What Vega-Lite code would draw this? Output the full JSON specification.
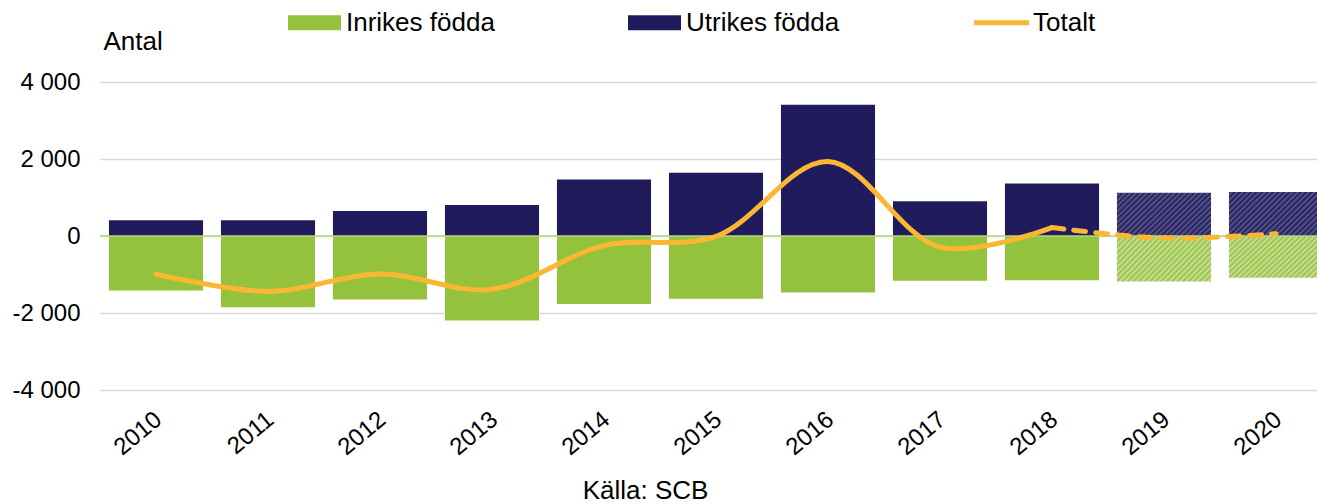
{
  "$schema": "https://vega.github.io/schema/vega-lite/v6.json",
  "width": 1217,
  "height": 308,
  "autosize": {"type": "none"},
  "padding": {"left": 100, "top": 82, "right": 0, "bottom": 114},
  "background": "white",
  "config": {
    "view": {"stroke": null},
    "font": "Liberation Sans",
    "axis": {"labelFont": "Liberation Sans", "titleFont": "Liberation Sans", "labelColor": "#000000", "titleColor": "#000000"},
    "legend": {"labelFont": "Liberation Sans"}
  },
  "title": {
    "text": "Källa: SCB",
    "orient": "bottom",
    "anchor": "middle",
    "frame": "group",
    "font": "Liberation Sans",
    "fontSize": 26,
    "fontWeight": "normal",
    "color": "#000000",
    "dx": -63,
    "offset": 18
  },
  "datasets": {
    "bars": [
      {"year": 2010, "serie": "Utrikes födda", "value": 409},
      {"year": 2010, "serie": "Inrikes födda", "value": -1416},
      {"year": 2011, "serie": "Utrikes födda", "value": 409},
      {"year": 2011, "serie": "Inrikes födda", "value": -1851},
      {"year": 2012, "serie": "Utrikes födda", "value": 652},
      {"year": 2012, "serie": "Inrikes födda", "value": -1650},
      {"year": 2013, "serie": "Utrikes födda", "value": 808},
      {"year": 2013, "serie": "Inrikes födda", "value": -2198},
      {"year": 2014, "serie": "Utrikes födda", "value": 1470},
      {"year": 2014, "serie": "Inrikes födda", "value": -1763},
      {"year": 2015, "serie": "Utrikes födda", "value": 1643},
      {"year": 2015, "serie": "Inrikes födda", "value": -1633},
      {"year": 2016, "serie": "Utrikes födda", "value": 3408},
      {"year": 2016, "serie": "Inrikes födda", "value": -1468},
      {"year": 2017, "serie": "Utrikes födda", "value": 904},
      {"year": 2017, "serie": "Inrikes födda", "value": -1165},
      {"year": 2018, "serie": "Utrikes födda", "value": 1366},
      {"year": 2018, "serie": "Inrikes födda", "value": -1147},
      {"year": 2019, "serie": "Utrikes födda", "value": 1121},
      {"year": 2019, "serie": "Inrikes födda", "value": -1181},
      {"year": 2020, "serie": "Utrikes födda", "value": 1140},
      {"year": 2020, "serie": "Inrikes födda", "value": -1085}
    ],
    "total": [
      {"year": 2010, "value": -990},
      {"year": 2011, "value": -1440},
      {"year": 2012, "value": -985},
      {"year": 2013, "value": -1385},
      {"year": 2014, "value": -250},
      {"year": 2015, "value": -10},
      {"year": 2016, "value": 1935},
      {"year": 2017, "value": -290},
      {"year": 2018, "value": 219},
      {"year": 2019, "value": -55},
      {"year": 2020, "value": 60}
    ],
    "zero": [{"value": 0}]
  },
  "layer": [
    {
      "data": {"name": "bars"},
      "transform": [{"filter": "datum.year <= 2018"}],
      "mark": {"type": "bar"},
      "encoding": {
        "x": {
          "field": "year", "type": "ordinal",
          "scale": {"range": [0, 1232], "paddingInner": 0.16, "paddingOuter": 0.08},
          "axis": {"title": null, "labelAngle": -40, "labelFontSize": 24, "domain": false, "ticks": false, "grid": false, "labelPadding": 17, "labelOffset": -5}
        },
        "y": {
          "field": "value", "type": "quantitative", "stack": null,
          "scale": {"domain": [-4000, 4000], "nice": false},
          "axis": {
            "values": [-4000, -2000, 0, 2000, 4000],
            "labelExpr": "(datum.value < 0 ? '-' : '') + replace(format(abs(datum.value), ','), ',', ' ')",
            "labelFontSize": 24, "labelPadding": 20,
            "domain": false, "ticks": false,
            "grid": true, "gridColor": "#D9D9D9", "gridWidth": 1.5,
            "title": "Antal", "titleAngle": 0, "titleAlign": "left", "titleBaseline": "alphabetic",
            "titleX": 3, "titleY": -33, "titleFontSize": 26, "titleFontWeight": "normal"
          }
        },
        "color": {
          "field": "serie", "type": "nominal",
          "scale": {"domain": ["Inrikes födda", "Utrikes födda", "Totalt"], "range": ["#95C23D", "#201B5C", "#FBB734"]},
          "legend": {
            "title": null,
            "orient": "none",
            "direction": "horizontal",
            "legendX": 188,
            "legendY": -86,
            "padding": 0,
            "labelFontSize": 26,
            "labelColor": "#000000",
            "labelOffset": 5,
            "columnPadding": 133,
            "symbolSize": 2809,
            "symbolStrokeWidth": 0,
            "encode": {
              "symbols": {
                "update": {
                  "shape": {"signal": "datum.value === 'Totalt' ? 'M-1.04,-0.09H1.04V0.09H-1.04Z' : 'M-1,-0.28H1V0.28H-1Z'"},
                  "fill": {"scale": "color", "field": "value"},
                  "opacity": {"value": 1},
                  "strokeWidth": {"value": 0}
                }
              }
            }
          }
        }
      }
    },
    {
      "data": {"name": "bars"},
      "transform": [{"filter": "datum.year >= 2019 && datum.serie === 'Utrikes födda'"}],
      "mark": {
        "type": "bar",
        "fill": {
          "gradient": "linear", "x1": 0, "y1": 0, "x2": 1.2, "y2": 0.565,
          "stops": [
            {"offset": 0, "color": "#201B5C"}, {"offset": 0.02, "color": "#5A5A8C"},
            {"offset": 0.04, "color": "#201B5C"}, {"offset": 0.06, "color": "#5A5A8C"},
            {"offset": 0.08, "color": "#201B5C"}, {"offset": 0.10, "color": "#5A5A8C"},
            {"offset": 0.12, "color": "#201B5C"}, {"offset": 0.14, "color": "#5A5A8C"},
            {"offset": 0.16, "color": "#201B5C"}, {"offset": 0.18, "color": "#5A5A8C"},
            {"offset": 0.20, "color": "#201B5C"}, {"offset": 0.22, "color": "#5A5A8C"},
            {"offset": 0.24, "color": "#201B5C"}, {"offset": 0.26, "color": "#5A5A8C"},
            {"offset": 0.28, "color": "#201B5C"}, {"offset": 0.30, "color": "#5A5A8C"},
            {"offset": 0.32, "color": "#201B5C"}, {"offset": 0.34, "color": "#5A5A8C"},
            {"offset": 0.36, "color": "#201B5C"}, {"offset": 0.38, "color": "#5A5A8C"},
            {"offset": 0.40, "color": "#201B5C"}, {"offset": 0.42, "color": "#5A5A8C"},
            {"offset": 0.44, "color": "#201B5C"}, {"offset": 0.46, "color": "#5A5A8C"},
            {"offset": 0.48, "color": "#201B5C"}, {"offset": 0.50, "color": "#5A5A8C"},
            {"offset": 0.52, "color": "#201B5C"}, {"offset": 0.54, "color": "#5A5A8C"},
            {"offset": 0.56, "color": "#201B5C"}, {"offset": 0.58, "color": "#5A5A8C"},
            {"offset": 0.60, "color": "#201B5C"}, {"offset": 0.62, "color": "#5A5A8C"},
            {"offset": 0.64, "color": "#201B5C"}, {"offset": 0.66, "color": "#5A5A8C"},
            {"offset": 0.68, "color": "#201B5C"}, {"offset": 0.70, "color": "#5A5A8C"},
            {"offset": 0.72, "color": "#201B5C"}, {"offset": 0.74, "color": "#5A5A8C"},
            {"offset": 0.76, "color": "#201B5C"}, {"offset": 0.78, "color": "#5A5A8C"},
            {"offset": 0.80, "color": "#201B5C"}, {"offset": 0.82, "color": "#5A5A8C"},
            {"offset": 0.84, "color": "#201B5C"}, {"offset": 0.86, "color": "#5A5A8C"},
            {"offset": 0.88, "color": "#201B5C"}, {"offset": 0.90, "color": "#5A5A8C"},
            {"offset": 0.92, "color": "#201B5C"}, {"offset": 0.94, "color": "#5A5A8C"},
            {"offset": 0.96, "color": "#201B5C"}, {"offset": 0.98, "color": "#5A5A8C"},
            {"offset": 1, "color": "#201B5C"}
          ]
        }
      },
      "encoding": {
        "x": {"field": "year", "type": "ordinal"},
        "y": {"field": "value", "type": "quantitative", "stack": null}
      }
    },
    {
      "data": {"name": "bars"},
      "transform": [{"filter": "datum.year >= 2019 && datum.serie === 'Inrikes födda'"}],
      "mark": {
        "type": "bar",
        "fill": {
          "gradient": "linear", "x1": 0, "y1": 0, "x2": 1.2, "y2": 0.565,
          "stops": [
            {"offset": 0, "color": "#95C23D"}, {"offset": 0.02, "color": "#CBE1A2"},
            {"offset": 0.04, "color": "#95C23D"}, {"offset": 0.06, "color": "#CBE1A2"},
            {"offset": 0.08, "color": "#95C23D"}, {"offset": 0.10, "color": "#CBE1A2"},
            {"offset": 0.12, "color": "#95C23D"}, {"offset": 0.14, "color": "#CBE1A2"},
            {"offset": 0.16, "color": "#95C23D"}, {"offset": 0.18, "color": "#CBE1A2"},
            {"offset": 0.20, "color": "#95C23D"}, {"offset": 0.22, "color": "#CBE1A2"},
            {"offset": 0.24, "color": "#95C23D"}, {"offset": 0.26, "color": "#CBE1A2"},
            {"offset": 0.28, "color": "#95C23D"}, {"offset": 0.30, "color": "#CBE1A2"},
            {"offset": 0.32, "color": "#95C23D"}, {"offset": 0.34, "color": "#CBE1A2"},
            {"offset": 0.36, "color": "#95C23D"}, {"offset": 0.38, "color": "#CBE1A2"},
            {"offset": 0.40, "color": "#95C23D"}, {"offset": 0.42, "color": "#CBE1A2"},
            {"offset": 0.44, "color": "#95C23D"}, {"offset": 0.46, "color": "#CBE1A2"},
            {"offset": 0.48, "color": "#95C23D"}, {"offset": 0.50, "color": "#CBE1A2"},
            {"offset": 0.52, "color": "#95C23D"}, {"offset": 0.54, "color": "#CBE1A2"},
            {"offset": 0.56, "color": "#95C23D"}, {"offset": 0.58, "color": "#CBE1A2"},
            {"offset": 0.60, "color": "#95C23D"}, {"offset": 0.62, "color": "#CBE1A2"},
            {"offset": 0.64, "color": "#95C23D"}, {"offset": 0.66, "color": "#CBE1A2"},
            {"offset": 0.68, "color": "#95C23D"}, {"offset": 0.70, "color": "#CBE1A2"},
            {"offset": 0.72, "color": "#95C23D"}, {"offset": 0.74, "color": "#CBE1A2"},
            {"offset": 0.76, "color": "#95C23D"}, {"offset": 0.78, "color": "#CBE1A2"},
            {"offset": 0.80, "color": "#95C23D"}, {"offset": 0.82, "color": "#CBE1A2"},
            {"offset": 0.84, "color": "#95C23D"}, {"offset": 0.86, "color": "#CBE1A2"},
            {"offset": 0.88, "color": "#95C23D"}, {"offset": 0.90, "color": "#CBE1A2"},
            {"offset": 0.92, "color": "#95C23D"}, {"offset": 0.94, "color": "#CBE1A2"},
            {"offset": 0.96, "color": "#95C23D"}, {"offset": 0.98, "color": "#CBE1A2"},
            {"offset": 1, "color": "#95C23D"}
          ]
        }
      },
      "encoding": {
        "x": {"field": "year", "type": "ordinal"},
        "y": {"field": "value", "type": "quantitative", "stack": null}
      }
    },
    {
      "data": {"name": "zero"},
      "mark": {"type": "rule", "color": "#B6D67E", "strokeWidth": 1.5},
      "encoding": {
        "y": {"field": "value", "type": "quantitative"}
      }
    },
    {
      "data": {"name": "total"},
      "transform": [{"filter": "datum.year <= 2018"}],
      "mark": {"type": "line", "interpolate": "catmull-rom", "color": "#FBB734", "strokeWidth": 5, "strokeCap": "round"},
      "encoding": {
        "x": {"field": "year", "type": "ordinal"},
        "y": {"field": "value", "type": "quantitative"}
      }
    },
    {
      "data": {"name": "total"},
      "transform": [{"filter": "datum.year >= 2018"}],
      "mark": {"type": "line", "interpolate": "catmull-rom", "color": "#FBB734", "strokeWidth": 5, "strokeCap": "round", "strokeDash": [12, 10]},
      "encoding": {
        "x": {"field": "year", "type": "ordinal"},
        "y": {"field": "value", "type": "quantitative"}
      }
    }
  ]
}
